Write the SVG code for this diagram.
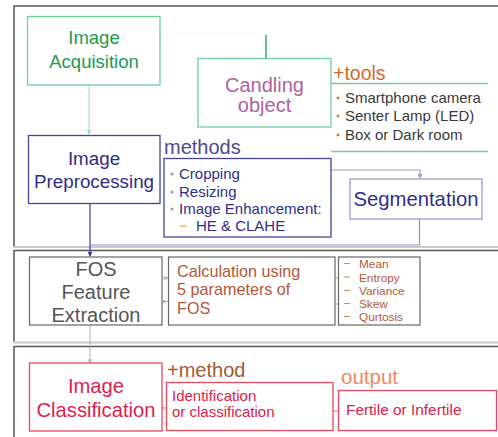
<svg xmlns="http://www.w3.org/2000/svg" width="498" height="437" viewBox="0 0 498 437">
<defs>
<style>
text{font-family:"Liberation Sans",Arial,sans-serif}
.frame{fill:none;stroke:#555;stroke-width:1.5}
.shadow{fill:none;stroke:#c8c8c8;stroke-width:2}
.green{fill:#fff;stroke:#6fcf9c;stroke-width:1.3}
.navy{fill:#fff;stroke:#44449e;stroke-width:1.3}
.lnavy{fill:#fff;stroke:#9c9cd2;stroke-width:1.3}
.gray{fill:#fff;stroke:#666;stroke-width:1.2}
.red{fill:#fff;stroke:#e8485e;stroke-width:1.3}
.c{text-anchor:middle}
</style>
<marker id="ah" viewBox="0 0 6 6" refX="5" refY="3" markerWidth="5" markerHeight="5" orient="auto" markerUnits="userSpaceOnUse">
<path d="M0,0 L6,3 L0,6 Z" fill="context-stroke"/>
</marker>
<marker id="ahs" viewBox="0 0 6 6" refX="5" refY="3" markerWidth="4" markerHeight="4" orient="auto" markerUnits="userSpaceOnUse">
<path d="M0,0 L6,3 L0,6" fill="none" stroke="#888" stroke-width="1"/>
</marker>
</defs>
<rect width="498" height="437" fill="#fff"/>

<g id="sections">
<path class="frame" d="M499,6 H14 V247"/>
<path class="shadow" d="M14,247 H499"/>
<path class="frame" d="M499,250.5 H14 V342"/>
<path class="shadow" d="M14,342.5 H499"/>
<path class="frame" d="M499,346.5 H14 V438"/>
</g>

<g id="connectors" fill="none">
<path d="M160,34.5 H266" stroke="#f1f8f3" stroke-width="1"/>
<path d="M266,35 V58" stroke="#1aa050" stroke-width="1.3"/>
<path d="M89,85 V134" stroke="#9bdcb8" stroke-width="1" marker-end="url(#ah)"/>
<path d="M90,204 V256" stroke="#3a3aa0" stroke-width="1.2" marker-end="url(#ah)"/>
<path d="M419.5,219 V245 H90" stroke="#8c8cc8" stroke-width="1.2"/>
<path d="M331,170 H420 V178" stroke="#9c9cd2" stroke-width="1.2" marker-end="url(#ah)"/>
<path d="M162,278 H167" stroke="#999" stroke-width="0.8" marker-end="url(#ahs)"/>
<path d="M168,301.5 H163" stroke="#999" stroke-width="0.8" marker-end="url(#ahs)"/>
<path d="M335,278 H338" stroke="#999" stroke-width="0.8"/>
<path d="M335,304 H338" stroke="#999" stroke-width="0.8"/>
<path d="M90,325 V362" stroke="#aaa" stroke-width="0.9" marker-end="url(#ahs)"/>
<path d="M162,408 H166" stroke="#e8485e" stroke-width="0.8"/>
<path d="M333,411 H338" stroke="#e8485e" stroke-width="0.8"/>
</g>

<g id="acquisition">
<rect class="green" x="27.5" y="16.5" width="132.5" height="68.5"/>
<text class="c" x="94" y="44" font-size="18.5" fill="#1a9a50">Image</text>
<text class="c" x="94" y="68" font-size="18.5" fill="#1a9a50">Acquisition</text>
</g>

<g id="candling">
<rect class="green" x="198" y="58.5" width="133" height="68.5"/>
<text class="c" x="264.5" y="92" font-size="20" fill="#b0609e">Candling</text>
<text class="c" x="264.5" y="112" font-size="20" fill="#b0609e">object</text>
</g>

<g id="tools">
<text x="333" y="80" font-size="19.5" fill="#d8682a">+tools</text>
<path d="M331,83.5 H488 M331,151.5 H488" stroke="#6fcf9c" stroke-width="1.3" fill="none"/>
<g fill="#d8782a"><circle cx="338" cy="98" r="1.5"/><circle cx="338" cy="116" r="1.5"/><circle cx="338" cy="135" r="1.5"/></g>
<g font-size="15" fill="#3a3a3a">
<text x="345" y="103">Smartphone camera</text>
<text x="345" y="121">Senter Lamp (LED)</text>
<text x="345" y="140">Box or Dark room</text>
</g>
</g>

<g id="preprocessing">
<rect class="navy" x="28.5" y="135.5" width="131.5" height="68"/>
<text class="c" x="94" y="165" font-size="18.8" fill="#2e2e8c">Image</text>
<text class="c" x="94" y="188" font-size="18.8" fill="#2e2e8c">Preprocessing</text>
</g>

<g id="methods">
<text x="164" y="154" font-size="20" fill="#4a4a90">methods</text>
<rect class="navy" x="164" y="158.5" width="167" height="78.5" stroke="#6a6ab0"/>
<g fill="#9a90c0"><circle cx="172" cy="174" r="1.5"/><circle cx="172" cy="192" r="1.5"/><circle cx="172" cy="209" r="1.5"/></g>
<path d="M180,226 H187" stroke="#e89a60" stroke-width="1.2"/>
<g font-size="15" fill="#2e2e8c">
<text x="179" y="179">Cropping</text>
<text x="179" y="197">Resizing</text>
<text x="179" y="214">Image Enhancement:</text>
<text x="196" y="231">HE &amp; CLAHE</text>
</g>
</g>

<g id="segmentation">
<rect class="lnavy" x="350" y="179" width="132" height="40"/>
<text class="c" x="416" y="206" font-size="20.3" fill="#2e2e8c">Segmentation</text>
</g>

<g id="fos">
<rect class="gray" x="29.5" y="257" width="132.5" height="68"/>
<text class="c" x="96" y="276" font-size="20" fill="#555">FOS</text>
<text class="c" x="96" y="299" font-size="20" fill="#555">Feature</text>
<text class="c" x="96" y="322" font-size="20" fill="#555">Extraction</text>
</g>

<g id="calculation">
<rect class="gray" x="168.5" y="257" width="166.5" height="68"/>
<g font-size="16.2" fill="#b0583a">
<text x="177" y="277">Calculation using</text>
<text x="177" y="295">5 parameters of</text>
<text x="177" y="313.5">FOS</text>
</g>
</g>

<g id="parameters">
<rect class="gray" x="338.5" y="257" width="81.5" height="68" stroke="#888"/>
<g stroke="#e08a50" stroke-width="1.2"><path d="M344,263.5 H350 M344,277 H350 M344,290.5 H350 M344,303.5 H350 M344,316.5 H350"/></g>
<g font-size="11.8" fill="#b0583a">
<text x="359" y="268">Mean</text>
<text x="359" y="281.5">Entropy</text>
<text x="359" y="294.5">Variance</text>
<text x="359" y="308">Skew</text>
<text x="359" y="321">Qurtosis</text>
</g>
</g>

<g id="classification">
<rect class="red" x="29.5" y="363" width="132.5" height="68"/>
<text class="c" x="96" y="393" font-size="20.2" fill="#e0204c">Image</text>
<text class="c" x="96" y="417" font-size="20.2" fill="#e0204c">Classification</text>
</g>

<g id="method">
<text x="167" y="377" font-size="20" fill="#a05a3a">+method</text>
<rect class="red" x="166.5" y="382.5" width="166.5" height="48"/>
<text x="172" y="401" font-size="15" fill="#e0204c">Identification</text>
<text x="172" y="417" font-size="15" fill="#e0204c">or classification</text>
</g>

<g id="output">
<text x="341" y="384" font-size="20.5" fill="#f08a60">output</text>
<rect class="red" x="338.5" y="390.5" width="158" height="40" stroke="#f08090"/>
<text x="346" y="415" font-size="15.4" fill="#e0204c">Fertile or Infertile</text>
</g>
</svg>
